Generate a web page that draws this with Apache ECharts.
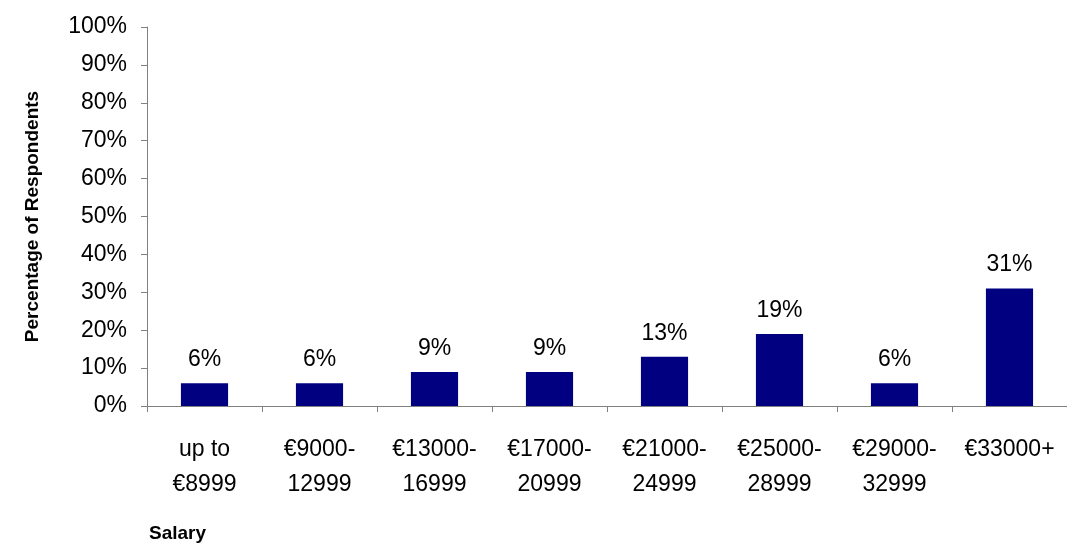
<!DOCTYPE html>
<html>
<head>
<meta charset="utf-8">
<script src="https://cdn.jsdelivr.net/npm/echarts@6/dist/echarts.min.js"></script>
<style>
  html, body { margin:0; padding:0; background:#fff; }
  #chart { width:1067px; height:547px; }
</style>
</head>
<body>
<div id="chart"></div>
<script>
var categories = ['up to\n€8999', '€9000-\n12999', '€13000-\n16999', '€17000-\n20999',
                  '€21000-\n24999', '€25000-\n28999', '€29000-\n32999', '€33000+'];
var percentValues = [6, 6, 9, 9, 13, 19, 6, 31];
var yTicks = { min: 0, max: 100, step: 10 };

var chart = echarts.init(document.getElementById('chart'));
var fontFam = 'Liberation Sans, Arial, sans-serif';

var option = {
  animation: false,
  grid: { left: 147, top: 27, bottom: 141, right: -4 },
  xAxis: {
    type: 'category',
    data: categories,
    axisLine: { lineStyle: { color: '#808080', width: 1 } },
    axisTick: { show: true, alignWithLabel: false, length: 6, lineStyle: { color: '#808080' } },
    axisLabel: { color: '#000', fontSize: 23, fontFamily: fontFam, lineHeight: 35, margin: 26, interval: 0 }
  },
  yAxis: {
    type: 'value',
    min: yTicks.min, max: yTicks.max, interval: yTicks.step,
    name: 'Percentage of Respondents',
    nameLocation: 'middle',
    nameRotate: 90,
    nameGap: 105,
    nameTextStyle: { color: '#000', fontSize: 19, fontWeight: 'bold', fontFamily: fontFam },
    axisLine: { show: true, lineStyle: { color: '#808080', width: 1 } },
    axisTick: { show: true, length: 6, lineStyle: { color: '#808080' } },
    splitLine: { show: false },
    axisLabel: { color: '#000', fontSize: 23, fontFamily: fontFam, margin: 20, formatter: '{value}%' }
  },
  graphic: [{
    type: 'text', left: 149, top: 524,
    style: { text: 'Salary', fill: '#000', font: 'bold 19px ' + fontFam }
  }],
  series: [{
    type: 'bar',
    data: percentValues,
    barWidth: '41%',
    itemStyle: { color: '#000080' },
    label: { show: true, position: 'top', distance: 12, formatter: '{c}%', color: '#000', fontSize: 23, fontFamily: fontFam }
  }]
};
chart.setOption(option);
</script>
</body>
</html>
